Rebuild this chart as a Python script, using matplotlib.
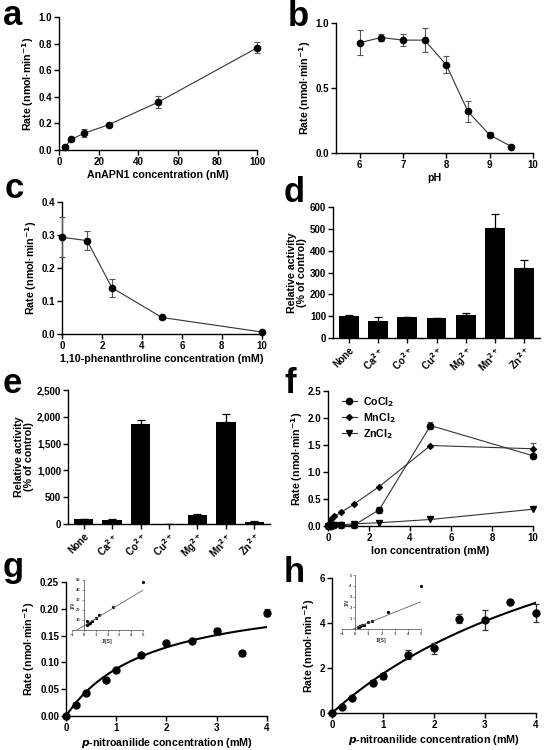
import matplotlib
matplotlib.use("Agg")
import matplotlib.pyplot as plt
import numpy as np
from matplotlib.ticker import FuncFormatter

plt.rcParams["font.family"] = ["Liberation Sans", "DejaVu Sans"]
plt.rcParams["font.weight"] = "bold"
plt.rcParams["axes.labelweight"] = "bold"
plt.rcParams["axes.linewidth"] = 1.0
plt.rcParams["xtick.major.width"] = 1.0
plt.rcParams["ytick.major.width"] = 1.0
plt.rcParams["xtick.major.size"] = 3.5
plt.rcParams["ytick.major.size"] = 3.5
plt.rcParams["xtick.labelsize"] = 7
plt.rcParams["ytick.labelsize"] = 7
plt.rcParams["axes.labelsize"] = 7.7

RATE = "Rate (nmol·min$^{\\mathbf{-1}}$)"

# --- panel a: enzyme concentration
a_conc = [3.125, 6.25, 12.5, 25, 50, 100]
a_rate = [0.025, 0.08, 0.125, 0.19, 0.36, 0.77]
a_err = [0.01, 0.01, 0.03, 0.01, 0.045, 0.04]

# --- panel b: pH
b_ph = [6, 6.5, 7, 7.5, 8, 8.5, 9, 9.5]
b_rate = [0.85, 0.89, 0.87, 0.87, 0.68, 0.32, 0.14, 0.05]
b_err = [0.095, 0.03, 0.045, 0.095, 0.065, 0.08, 0.02, 0.01]

# --- panel c: 1,10-phenanthroline
c_conc = [0, 1.25, 2.5, 5, 10]
c_rate = [0.293, 0.283, 0.14, 0.05, 0.006]
c_err = [0.06, 0.03, 0.027, 0.004, 0.003]

# --- panels d, e: metal ions
ions = ["None", "Ca$^{2+}$", "Co$^{2+}$", "Cu$^{2+}$", "Mg$^{2+}$", "Mn$^{2+}$", "Zn$^{2+}$"]
d_act = [100, 78, 95, 90, 107, 505, 322]
d_err = [5, 18, 3, 0, 6, 65, 35]
e_act = [100, 80, 1865, 0, 165, 1895, 40]
e_err = [0, 8, 70, 0, 15, 160, 10]

# --- panel f: ion concentration
f_conc = [0, 0.078, 0.156, 0.3125, 0.625, 1.25, 2.5, 5, 10]
f_co = [0, 0.005, 0.005, 0.01, 0.01, 0.01, 0.30, 1.86, 1.30]
f_co_err = [0, 0, 0, 0.01, 0.04, 0.05, 0.06, 0.06, 0.04]
f_mn = [0, 0.06, 0.12, 0.18, 0.25, 0.40, 0.73, 1.49, 1.43]
f_mn_err = [0, 0, 0, 0, 0, 0, 0, 0, 0.11]
f_zn = [0, 0.01, 0.01, 0.02, 0.02, 0.04, 0.06, 0.12, 0.31]

# --- panels g, h: kinetics
s_conc = [0, 0.2, 0.4, 0.8, 1, 1.5, 2, 2.5, 3, 3.5, 4]
g_rate = [0, 0.021, 0.043, 0.068, 0.086, 0.113, 0.136, 0.14, 0.158, 0.117, 0.193]
g_err = [0, 0.002, 0.002, 0.003, 0.002, 0.002, 0.002, 0.002, 0.007, 0.005, 0.007]
g_vmax, g_km = 0.2356, 1.677
h_rate = [0, 0.25, 0.65, 1.35, 1.65, 2.6, 2.88, 4.2, 4.12, 4.92, 4.45]
h_err = [0, 0.05, 0.05, 0.1, 0.12, 0.2, 0.25, 0.2, 0.45, 0.05, 0.4]
h_vmax, h_km = 12.25, 6.0

fig = plt.figure(figsize=(5.46, 7.5), dpi=100)


def style(ax):
    ax.spines["top"].set_visible(False)
    ax.spines["right"].set_visible(False)
    ax.tick_params(direction="out", pad=1.5)


def line_err(ax, x, y, err, marker="o", ms=4.5):
    ax.errorbar(x, y, yerr=err, fmt="-", color="#333333", lw=0.8,
                marker=marker, ms=ms, mfc="black", mec="black",
                ecolor="#555555", elinewidth=0.8, capsize=2, capthick=0.8,
                clip_on=False, zorder=3)


def letter(x, y, s):
    fig.text(x / 546, 1 - y / 750, s, fontsize=25, fontweight="bold",
             va="baseline", ha="left")


# a
ax = fig.add_axes([0.108, 0.80, 0.363, 0.177])
style(ax)
line_err(ax, a_conc, a_rate, a_err)
ax.set_xlim(0, 100)
ax.set_ylim(0, 1.0)
ax.set_yticks(np.arange(0, 1.01, 0.2))
ax.yaxis.set_major_formatter(FuncFormatter(lambda v, p: f"{v:.1f}"))
ax.set_xlabel("AnAPN1 concentration (nM)", labelpad=2)
ax.set_ylabel(RATE, labelpad=2)
letter(3, 25, "a")

# b
ax = fig.add_axes([0.615, 0.796, 0.361, 0.173])
style(ax)
line_err(ax, b_ph, b_rate, b_err)
ax.set_xlim(5.45, 10)
ax.set_ylim(0, 1.0)
ax.set_xticks([6, 7, 8, 9, 10])
ax.set_yticks([0, 0.5, 1.0])
ax.yaxis.set_major_formatter(FuncFormatter(lambda v, p: f"{v:.1f}"))
ax.set_xlabel("pH", labelpad=2)
ax.set_ylabel(RATE, labelpad=2)
letter(288, 26, "b")

# c
ax = fig.add_axes([0.1136, 0.5547, 0.366, 0.176])
style(ax)
line_err(ax, c_conc, c_rate, c_err)
ax.set_xlim(0, 10)
ax.set_ylim(0, 0.4)
ax.set_yticks(np.arange(0, 0.41, 0.1))
ax.yaxis.set_major_formatter(FuncFormatter(lambda v, p: f"{v:.1f}"))
ax.set_xlabel("1,10-phenanthroline concentration (mM)", labelpad=2)
ax.set_ylabel(RATE, labelpad=2)
letter(5, 198, "c")


def bars(ax, vals, errs, ymax, step, fmt):
    style(ax)
    xs = np.arange(len(vals))
    ax.bar(xs, vals, width=0.68, color="black", zorder=2)
    ax.errorbar(xs, vals, yerr=[np.zeros(len(errs)), errs], fmt="none",
                ecolor="black", elinewidth=0.9, capsize=3, capthick=0.9, zorder=3)
    ax.set_xlim(-0.55, len(vals) - 0.45)
    ax.set_ylim(0, ymax)
    ax.set_yticks(np.arange(0, ymax + 1, step))
    ax.yaxis.set_major_formatter(FuncFormatter(fmt))
    ax.set_xticks(xs)
    ax.set_xticklabels(ions, rotation=45, ha="right", rotation_mode="anchor")
    ax.set_ylabel("Relative activity\n(% of control)", labelpad=2, linespacing=1.0)


# d
ax = fig.add_axes([0.61, 0.5493, 0.379, 0.1747])
bars(ax, d_act, d_err, 600, 100, lambda v, p: f"{v:.0f}")
letter(284, 202, "d")

# e
ax = fig.add_axes([0.1245, 0.3013, 0.37, 0.1787])
bars(ax, e_act, e_err, 2500, 500, lambda v, p: f"{v:,.0f}")
letter(3, 393, "e")

# f
ax = fig.add_axes([0.6007, 0.2987, 0.3755, 0.18])
style(ax)
line_err(ax, f_conc, f_co, f_co_err, marker="o", ms=4.5)
line_err(ax, f_conc, f_mn, f_mn_err, marker="D", ms=3)
line_err(ax, f_conc, f_zn, None, marker="v", ms=4)
ax.set_xlim(0, 10)
ax.set_ylim(0, 2.5)
ax.set_yticks(np.arange(0, 2.51, 0.5))
ax.yaxis.set_major_formatter(FuncFormatter(lambda v, p: f"{v:.1f}"))
ax.set_xlabel("Ion concentration (mM)", labelpad=2)
ax.set_ylabel(RATE, labelpad=2)
hs = [plt.Line2D([], [], color="#333333", lw=0.8, marker=m, ms=s, mfc="black", mec="black")
      for m, s in [("o", 4.5), ("D", 3), ("v", 4)]]
ax.legend(hs, ["CoCl$_\\mathbf{2}$", "MnCl$_\\mathbf{2}$", "ZnCl$_\\mathbf{2}$"],
          loc="upper left", bbox_to_anchor=(0.02, 1.04), frameon=False,
          fontsize=7.7, handlelength=1.4, handletextpad=0.6, labelspacing=0.2)
letter(284, 393, "f")


def kinetics(ax, rate, err, vmax, km, ymax, yticks, fmt):
    style(ax)
    ax.errorbar(s_conc, rate, yerr=err, fmt="o", ms=5, mfc="black", mec="black",
                ecolor="#333333", elinewidth=0.9, capsize=2.5, capthick=0.9,
                clip_on=False, zorder=3)
    s = np.linspace(0, 4, 200)
    ax.plot(s, vmax * s / (km + s), color="black", lw=1.5, zorder=2)
    ax.set_xlim(0, 4)
    ax.set_ylim(0, ymax)
    ax.set_yticks(yticks)
    ax.yaxis.set_major_formatter(FuncFormatter(fmt))
    ax.set_xticks([0, 1, 2, 3, 4])
    ax.set_xlabel("$\\bfit{p}$-nitroanilide concentration (mM)", labelpad=2)
    ax.set_ylabel(RATE, labelpad=2)


def inset(rect, rate, vmax, km, ymax, yticks):
    ax = fig.add_axes(rect)
    ax.patch.set_alpha(0)
    for k in ["top", "right"]:
        ax.spines[k].set_visible(False)
    ax.spines["left"].set_position(("data", 0))
    ax.spines["left"].set_linewidth(0.5)
    ax.spines["bottom"].set_linewidth(0.5)
    ax.spines["left"].set_color("#444444")
    ax.spines["bottom"].set_color("#444444")
    inv_s = [1 / v for v in s_conc[1:]]
    inv_v = [1 / v for v in rate[1:]]
    ax.plot(inv_s, inv_v, "o", ms=1.3, color="black", clip_on=False)
    xx = np.linspace(-1 / km, 5, 50)
    ax.plot(xx, km / vmax * xx + 1 / vmax, color="#666666", lw=0.6)
    ax.set_xlim(-1, 5)
    ax.set_ylim(0, ymax)
    ax.set_xticks([-1, 0, 1, 2, 3, 4, 5])
    ax.set_yticks(yticks)
    ax.tick_params(labelsize=3, length=1.5, width=0.4, pad=1, colors="#444444")
    ax.set_xlabel("1/[S]", fontsize=3.5, labelpad=1, color="#333333")
    ax.set_ylabel("1/V", fontsize=3.5, labelpad=0, color="#333333")


# g
ax = fig.add_axes([0.1209, 0.0453, 0.368, 0.1787])
kinetics(ax, g_rate, g_err, g_vmax, g_km, 0.25, np.arange(0, 0.251, 0.05),
         lambda v, p: f"{v:.2f}")
inset([0.1319, 0.16, 0.130, 0.0667], g_rate, g_vmax, g_km, 50, [10, 20, 30, 40, 50])
letter(3, 577, "g")

# h
ax = fig.add_axes([0.608, 0.0493, 0.3736, 0.18])
kinetics(ax, h_rate, h_err, h_vmax, h_km, 6, [0, 2, 4, 6], lambda v, p: f"{v:.0f}")
inset([0.6264, 0.1613, 0.1447, 0.072], h_rate, h_vmax, h_km, 5, [1, 2, 3, 4, 5])
letter(284, 582, "h")

fig.savefig("out.png", dpi=100)
